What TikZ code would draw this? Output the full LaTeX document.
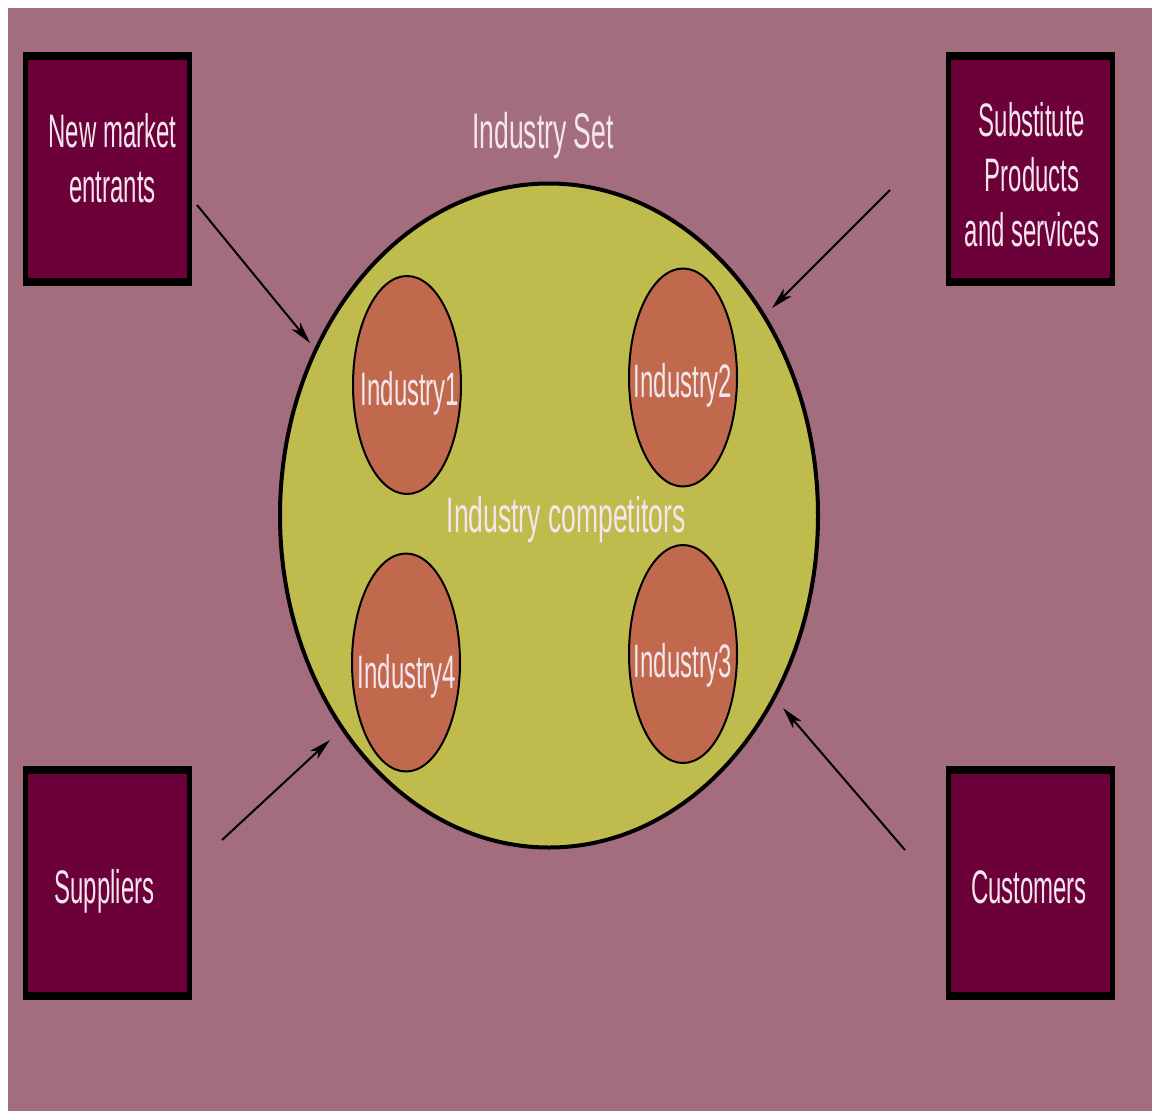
\documentclass[tikz,border=0pt]{standalone}
\usepackage{fontspec}
\usetikzlibrary{shapes.geometric,arrows.meta}
\newfontfamily\condsf[FakeStretch=0.51]{Liberation Sans}
\newfontfamily\condsfwide[FakeStretch=0.53]{Liberation Sans}
\definecolor{pagebg}{HTML}{A36D7D}
\definecolor{boxfill}{HTML}{6C0038}
\definecolor{setfill}{HTML}{BFBB4C}
\definecolor{indfill}{HTML}{C1694C}
\definecolor{labeltext}{HTML}{F5E6EE}
\begin{document}
\begin{tikzpicture}[x=1pt,y=-1pt,
  forcebox/.style={draw=black,line width=5pt,fill=boxfill,minimum width=164pt,minimum height=229pt,inner sep=0pt},
  boxtext/.style={text=labeltext,font=\condsf\fontsize{47}{55}\selectfont,align=center,inner sep=0pt},
  maintext/.style={text=labeltext,font=\condsfwide\fontsize{50}{58}\selectfont,inner sep=0pt},
  industry/.style={ellipse,draw=black,line width=2pt,fill=indfill,minimum width=108pt,minimum height=218pt,inner sep=0pt},
  force/.style={-{Stealth[length=22pt,width=11pt,inset=6pt]},line width=2pt,black}]
\useasboundingbox (0,0) rectangle (1152,1111);
\fill[white] (0,0) rectangle (1152,1111);
\fill[pagebg] (8,8) rectangle (1152,1111);

% the four forces
\node[forcebox] (entrants)   at (107.5,169) {};
\node[forcebox] (substitute) at (1030,169) {};
\node[forcebox] (suppliers)  at (107.5,882.5) {};
\node[forcebox] (customers)  at (1030,882.5) {};
\foreach \b in {entrants,substitute,suppliers,customers}{
  \fill[black] (\b.north west) rectangle ([yshift=-8pt]\b.north east);
  \fill[black] (\b.south west) rectangle ([yshift=8pt]\b.south east);
}
% multi-line labels sit on the baseline of their last line
\node[boxtext,anchor=base] (entrantsTxt) at (112.5,202) {New market\\entrants};
\node[boxtext,anchor=base] (substituteTxt) at (1032,246) {Substitute\\Products\\and services};
\node[boxtext,anchor=base] (suppliersTxt) at (104.5,903) {Suppliers};
\node[boxtext,anchor=base] (customersTxt) at (1029,903) {Customers};

% industry set with its members
\node[maintext,anchor=base] (setTitle) at (543,148) {Industry Set};
\node[ellipse,draw=black,line width=4pt,fill=setfill,minimum width=538pt,minimum height=664pt] (set) at (549,515.5) {};
\node[industry] (ind1) at (407,385) {};
\node[industry] (ind2) at (683,377.5) {};
\node[industry] (ind4) at (406,662.5) {};
\node[industry] (ind3) at (683,654) {};
\node[boxtext,anchor=base] (ind1Txt) at (410,405) {Industry1};
\node[boxtext,anchor=base] (ind2Txt) at (683,397) {Industry2};
\node[boxtext,anchor=base] (ind4Txt) at (407,688) {Industry4};
\node[boxtext,anchor=base] (ind3Txt) at (683,677) {Industry3};
\node[maintext,anchor=base] (competitors) at (566,532) {Industry competitors};

% pressure arrows
\coordinate (entrantsFrom) at (197,205);
\coordinate (entrantsTo) at (310,343);
\coordinate (substituteFrom) at (890,190);
\coordinate (substituteTo) at (772,308);
\coordinate (suppliersFrom) at (222,840);
\coordinate (suppliersTo) at (330,740);
\coordinate (customersFrom) at (905,850);
\coordinate (customersTo) at (783,708);
\draw[force] (entrantsFrom) -- (entrantsTo);
\draw[force] (substituteFrom) -- (substituteTo);
\draw[force] (suppliersFrom) -- (suppliersTo);
\draw[force] (customersFrom) -- (customersTo);
\end{tikzpicture}
\end{document}
